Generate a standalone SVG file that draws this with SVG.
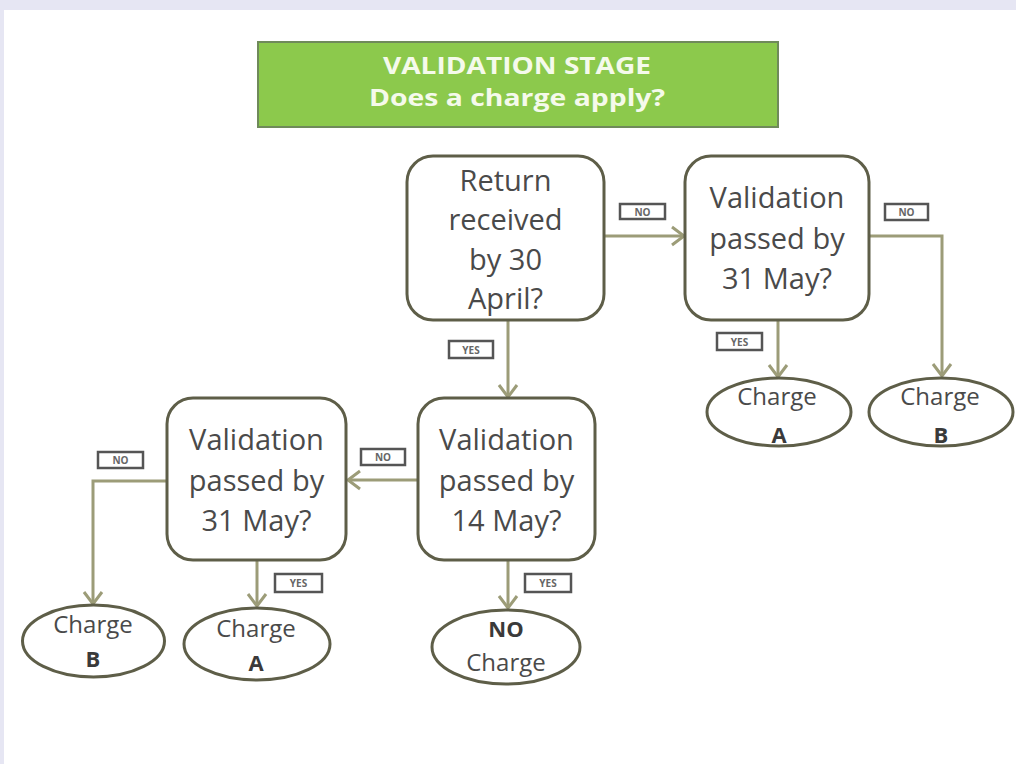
<svg xmlns="http://www.w3.org/2000/svg" width="1016" height="764" viewBox="0 0 1016 764">
<defs>
<marker id="arr" viewBox="0 0 22 22" refX="19" refY="11" markerWidth="22" markerHeight="22" markerUnits="userSpaceOnUse" orient="auto">
<path d="M7,2 L19,11 L7,20" fill="none" stroke="#9c9c78" stroke-width="3"/>
</marker>
<style>
.box{fill:#fff;stroke:#5e5e48;stroke-width:3}
.ell{fill:#fff;stroke:#5e5e48;stroke-width:3}
.t{font-family:"Open Sans","Liberation Sans",sans-serif;font-size:29px;fill:#4a4a4a;text-anchor:middle}
.e{font-family:"Open Sans","Liberation Sans",sans-serif;font-size:24px;fill:#4a4a4a;text-anchor:middle}
.eb{font-family:"Open Sans","Liberation Sans",sans-serif;font-size:22px;font-weight:bold;fill:#3a3a3a;text-anchor:middle}
.c{fill:none;stroke:#9c9c78;stroke-width:3;marker-end:url(#arr)}
.lb{fill:#fff;stroke:#555;stroke-width:2.5}
.lt{font-family:"Open Sans","Liberation Sans",sans-serif;font-size:10px;font-weight:bold;fill:#666;text-anchor:middle}
.title{font-family:"Open Sans","Liberation Sans",sans-serif;font-size:23px;font-weight:bold;fill:#f5faeb;text-anchor:middle}
</style>
</defs>
<rect x="0" y="0" width="1016" height="764" fill="#fff"/>
<rect x="0" y="0" width="1016" height="10" fill="#e6e6f3"/>
<rect x="0" y="0" width="4" height="764" fill="#e6e6f3"/>

<g id="title">
<rect x="258" y="42" width="520" height="85" fill="#8cc94c" stroke="#6f8a5a" stroke-width="2"/>
<text class="title" x="517" y="74" textLength="268" lengthAdjust="spacingAndGlyphs">VALIDATION STAGE</text>
<text class="title" x="517" y="106" textLength="296" lengthAdjust="spacingAndGlyphs">Does a charge apply?</text>
</g>

<g id="connectors">
<path class="c" d="M605,236 L684,236"/>
<path class="c" d="M870,236 L942,236 L942,376"/>
<path class="c" d="M778,321 L778,377"/>
<path class="c" d="M508,321 L508,397"/>
<path class="c" d="M417,480 L348,480"/>
<path class="c" d="M166,481 L93,481 L93,604"/>
<path class="c" d="M257,561 L257,606"/>
<path class="c" d="M508,561 L508,608"/>
<g id="labels">
<rect class="lb" x="620" y="204" width="45" height="15"/><text class="lt" x="642.5" y="215.5">NO</text>
<rect class="lb" x="885" y="204" width="43" height="16"/><text class="lt" x="906.5" y="216">NO</text>
<rect class="lb" x="717" y="333" width="45" height="17"/><text class="lt" x="739.5" y="345.5">YES</text>
<rect class="lb" x="449" y="341" width="44" height="17"/><text class="lt" x="471" y="353.5">YES</text>
<rect class="lb" x="361" y="449" width="44" height="16"/><text class="lt" x="383" y="461">NO</text>
<rect class="lb" x="98" y="452" width="45" height="16"/><text class="lt" x="120.5" y="464">NO</text>
<rect class="lb" x="275" y="574" width="47" height="18"/><text class="lt" x="298.5" y="587">YES</text>
<rect class="lb" x="525" y="574" width="46" height="18"/><text class="lt" x="548" y="587">YES</text>
</g>
</g>

<g id="n-return">
<rect class="box" x="407" y="156" width="197" height="164" rx="26"/>
<text class="t" x="505.5" y="191">Return</text>
<text class="t" x="505.5" y="230">received</text>
<text class="t" x="505.5" y="270">by 30</text>
<text class="t" x="505.5" y="309">April?</text>
</g>

<g id="n-right31">
<rect class="box" x="685" y="156" width="184" height="164" rx="26"/>
<text class="t" x="777" y="208">Validation</text>
<text class="t" x="777" y="249">passed by</text>
<text class="t" x="777" y="289">31 May?</text>
</g>

<g id="n-14may">
<rect class="box" x="418" y="398" width="177" height="162" rx="26"/>
<text class="t" x="506.5" y="450">Validation</text>
<text class="t" x="506.5" y="491">passed by</text>
<text class="t" x="506.5" y="531">14 May?</text>
</g>

<g id="n-left31">
<rect class="box" x="167" y="398" width="179" height="162" rx="26"/>
<text class="t" x="256.5" y="450">Validation</text>
<text class="t" x="256.5" y="491">passed by</text>
<text class="t" x="256.5" y="531">31 May?</text>
</g>

<g id="n-rightA">
<ellipse class="ell" cx="779" cy="412" rx="72" ry="34"/>
<text class="e" x="777" y="405">Charge</text>
<text class="eb" x="779" y="443">A</text>
</g>

<g id="n-rightB">
<ellipse class="ell" cx="941" cy="412" rx="72" ry="34"/>
<text class="e" x="940" y="405">Charge</text>
<text class="eb" x="941" y="443">B</text>
</g>

<g id="n-leftB">
<ellipse class="ell" cx="93.5" cy="641" rx="71" ry="36"/>
<text class="e" x="93" y="633">Charge</text>
<text class="eb" x="93" y="667">B</text>
</g>

<g id="n-leftA">
<ellipse class="ell" cx="257" cy="644" rx="73" ry="36"/>
<text class="e" x="256" y="637">Charge</text>
<text class="eb" x="256" y="671">A</text>
</g>

<g id="n-nocharge">
<ellipse class="ell" cx="506" cy="647" rx="74" ry="37"/>
<text class="eb" x="506" y="637">NO</text>
<text class="e" x="506" y="671">Charge</text>
</g>
</svg>
